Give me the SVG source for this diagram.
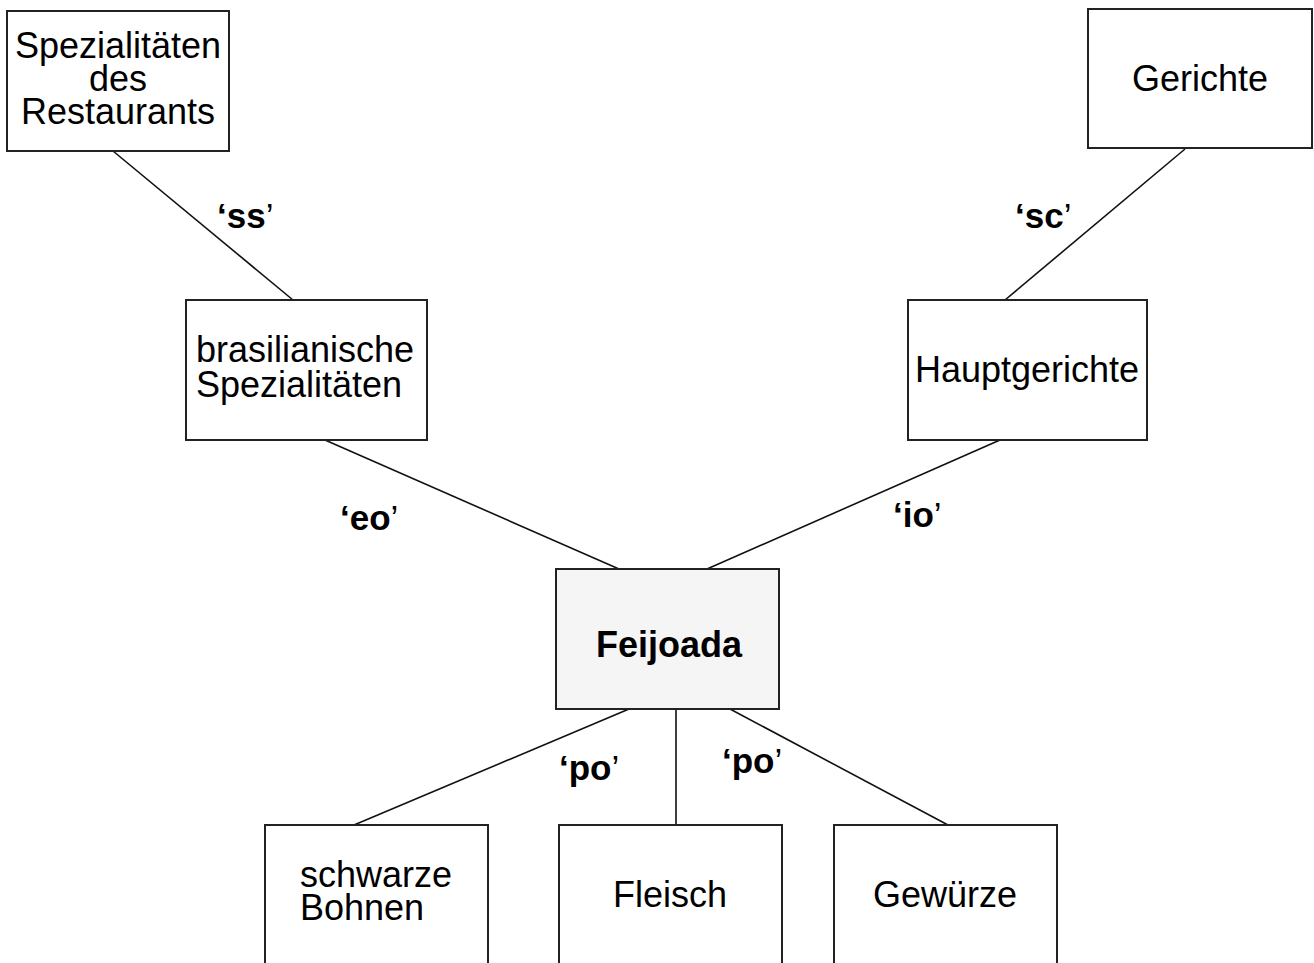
<svg xmlns="http://www.w3.org/2000/svg" width="1314" height="963" viewBox="0 0 1314 963">
<style>
.box{fill:#fff;stroke:#222;stroke-width:2}
.hl{fill:#f5f5f5;stroke:#222;stroke-width:2}
.t{font-family:"Liberation Sans",Arial,sans-serif;font-size:36px;fill:#000}
.c{text-anchor:middle}
.b{font-weight:bold}
.lbl{font-family:"Liberation Sans",Arial,sans-serif;font-size:35px;font-weight:bold;fill:#000}
.q{font-weight:normal}
.conn line{stroke:#111;stroke-width:1.6}
</style>
<rect width="1314" height="963" fill="#fff"/>
<g id="connectors" class="conn">
<line x1="113" y1="151" x2="293" y2="300"/>
<line x1="1185" y1="149" x2="1005" y2="300"/>
<line x1="325" y1="440" x2="619" y2="569"/>
<line x1="1000" y1="440" x2="707" y2="569"/>
<line x1="629" y1="709" x2="354" y2="825"/>
<line x1="676" y1="709" x2="676" y2="825"/>
<line x1="730" y1="709" x2="948" y2="825"/>
</g>
<g id="labels">
<text class="lbl" x="217" y="228">‘ss<tspan class="q">’</tspan></text>
<text class="lbl" x="1015" y="228">‘sc<tspan class="q">’</tspan></text>
<text class="lbl" x="340" y="530">‘eo<tspan class="q">’</tspan></text>
<text class="lbl" x="893" y="527">‘io<tspan class="q">’</tspan></text>
<text class="lbl" x="559" y="780">‘po<tspan class="q">’</tspan></text>
<text class="lbl" x="722" y="773">‘po<tspan class="q">’</tspan></text>
</g>
<g id="n-spezialitaeten">
<rect class="box" x="7" y="11" width="222" height="140"/>
<text class="t c" x="118" y="58">Spezialitäten</text>
<text class="t c" x="118" y="91">des</text>
<text class="t c" x="118" y="124">Restaurants</text>
</g>
<g id="n-gerichte">
<rect class="box" x="1088" y="9" width="224" height="139"/>
<text class="t c" x="1200" y="91">Gerichte</text>
</g>
<g id="n-brasilianische">
<rect class="box" x="186" y="300" width="241" height="140"/>
<text class="t" x="196" y="362">brasilianische</text>
<text class="t" x="196" y="397">Spezialitäten</text>
</g>
<g id="n-hauptgerichte">
<rect class="box" x="908" y="300" width="239" height="140"/>
<text class="t c" x="1027" y="382">Hauptgerichte</text>
</g>
<g id="n-feijoada">
<rect class="hl" x="556" y="569" width="223" height="140"/>
<text class="t c b" x="669" y="657">Feijoada</text>
</g>
<g id="n-bohnen">
<rect class="box" x="265" y="825" width="223" height="160"/>
<text class="t" x="300" y="887">schwarze</text>
<text class="t" x="300" y="920">Bohnen</text>
</g>
<g id="n-fleisch">
<rect class="box" x="559" y="825" width="223" height="160"/>
<text class="t c" x="670" y="907">Fleisch</text>
</g>
<g id="n-gewuerze">
<rect class="box" x="834" y="825" width="223" height="160"/>
<text class="t c" x="945" y="907">Gewürze</text>
</g>
</svg>
